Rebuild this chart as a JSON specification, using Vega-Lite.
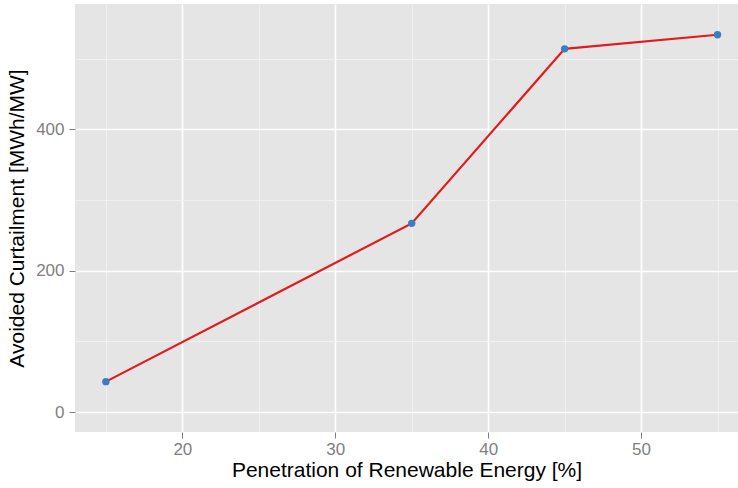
{
  "$schema": "https://vega.github.io/schema/vega-lite/v6.json",
  "width": 663,
  "height": 428,
  "autosize": {"type": "none"},
  "padding": {"left": 75, "top": 4, "right": 0, "bottom": 56},
  "background": "white",
  "config": {
    "view": {"fill": "#e5e5e5", "stroke": null},
    "font": "Liberation Sans",
    "axis": {
      "domain": false,
      "gridColor": "white",
      "tickColor": "#7f7f7f",
      "tickSize": 6,
      "tickWidth": 1,
      "labelColor": "#7f7f7f",
      "labelFontSize": 17,
      "labelFont": "Liberation Sans",
      "titleFont": "Liberation Sans",
      "titleFontSize": 21,
      "titleFontWeight": "normal",
      "titleColor": "black"
    }
  },
  "data": {
    "values": [
      {"penetration": 15, "curtailment": 43},
      {"penetration": 35, "curtailment": 267},
      {"penetration": 45, "curtailment": 514},
      {"penetration": 55, "curtailment": 534}
    ]
  },
  "resolve": {"axis": {"x": "independent", "y": "independent"}},
  "layer": [
    {
      "mark": {"type": "line", "color": "#e41a1c", "strokeWidth": 2.2, "clip": true},
      "encoding": {
        "x": {
          "field": "penetration", "type": "quantitative",
          "scale": {"domain": [12.98, 56.34], "nice": false, "zero": false},
          "axis": {"orient": "bottom", "values": [15, 25, 35, 45, 55], "grid": true, "gridColor": "#f2f2f2", "gridWidth": 0.8, "ticks": false, "labels": false, "title": null}
        },
        "y": {
          "field": "curtailment", "type": "quantitative",
          "scale": {"domain": [-28.3, 577.5], "nice": false, "zero": false},
          "axis": {"orient": "left", "values": [100, 300, 500], "grid": true, "gridColor": "#f2f2f2", "gridWidth": 0.8, "ticks": false, "labels": false, "title": null}
        }
      }
    },
    {
      "mark": {"type": "circle", "color": "#3a7dc2", "size": 55, "opacity": 1},
      "encoding": {
        "x": {
          "field": "penetration", "type": "quantitative",
          "axis": {"orient": "bottom", "values": [20, 30, 40, 50], "grid": true, "gridWidth": 1.6, "labelPadding": 3, "title": "Penetration of Renewable Energy [%]", "titlePadding": 2}
        },
        "y": {
          "field": "curtailment", "type": "quantitative",
          "axis": {"orient": "left", "values": [0, 200, 400], "grid": true, "gridWidth": 1.6, "labelPadding": 5, "title": "Avoided Curtailment [MWh/MW]", "titlePadding": 8}
        }
      }
    }
  ]
}
